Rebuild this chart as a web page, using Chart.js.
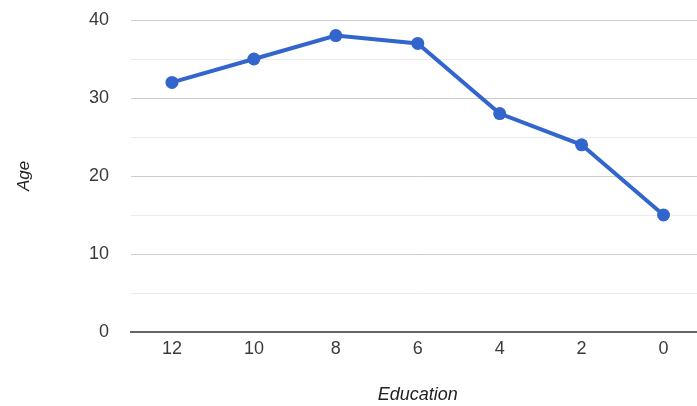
<!DOCTYPE html>
<html>
<head>
<meta charset="utf-8">
<script src="https://cdn.jsdelivr.net/npm/chart.js@4/dist/chart.umd.min.js"></script>
<style>
  html, body { margin: 0; padding: 0; background: #fff; overflow: hidden; }
  #wrap { width: 711px; height: 406px; }
</style>
</head>
<body>
<div id="wrap"><canvas id="c" width="711" height="406"></canvas></div>
<script>
// Education years (categories) and the age reached at each
const educationLabels = ['12', '10', '8', '6', '4', '2', '0'];
const ageValues = [32, 35, 38, 37, 28, 24, 15];
const yTickMax = 40;
const yTickStep = 5;

const FONT = '"Liberation Sans", Arial, sans-serif';

new Chart(document.getElementById('c'), {
  type: 'line',
  data: {
    labels: educationLabels,
    datasets: [{
      data: ageValues,
      borderColor: '#3366cc',
      backgroundColor: '#3366cc',
      borderWidth: 4,
      pointRadius: 6.5,
      pointHoverRadius: 6.5,
      pointBorderWidth: 0,
      tension: 0,
      fill: false
    }]
  },
  options: {
    responsive: false,
    animation: false,
    events: [],
    layout: { padding: { left: 14, top: 20, right: 0, bottom: 0 } },
    plugins: { legend: { display: false }, tooltip: { enabled: false } },
    scales: {
      x: {
        offset: true,
        grid: { display: false, drawTicks: false },
        border: { display: true, color: '#666', width: 2 },
        ticks: { color: '#3a3a3a', font: { family: FONT, size: 18 }, padding: 6, maxRotation: 0 },
        title: {
          display: true, text: 'Education', color: '#222',
          font: { family: FONT, size: 18, style: 'italic' }, padding: { top: 0, bottom: 0 }
        },
        afterFit: (s) => { s.height = 74; s.paddingLeft = 0; s.paddingRight = 0; }
      },
      y: {
        min: 0, max: yTickMax,
        border: { display: false },
        grid: {
          drawTicks: false,
          color: (ctx) => ctx.tick && ctx.tick.value % 10 === 0 ? '#cccccc' : '#ebebeb',
          lineWidth: (ctx) => ctx.tick && ctx.tick.value === 0 ? 0 : 1
        },
        ticks: {
          stepSize: yTickStep,
          color: '#3a3a3a',
          font: { family: FONT, size: 18 },
          padding: 22,
          callback: (v) => v % 10 === 0 ? String(v) : ''
        },
        title: {
          display: true, text: 'Age', color: '#222',
          font: { family: FONT, size: 17, style: 'italic' }, padding: { top: 0, bottom: 0 }
        },
        afterFit: (s) => { s.width = 117; s.paddingTop = 0; s.paddingBottom = 0; }
      }
    }
  }
});
</script>
</body>
</html>
